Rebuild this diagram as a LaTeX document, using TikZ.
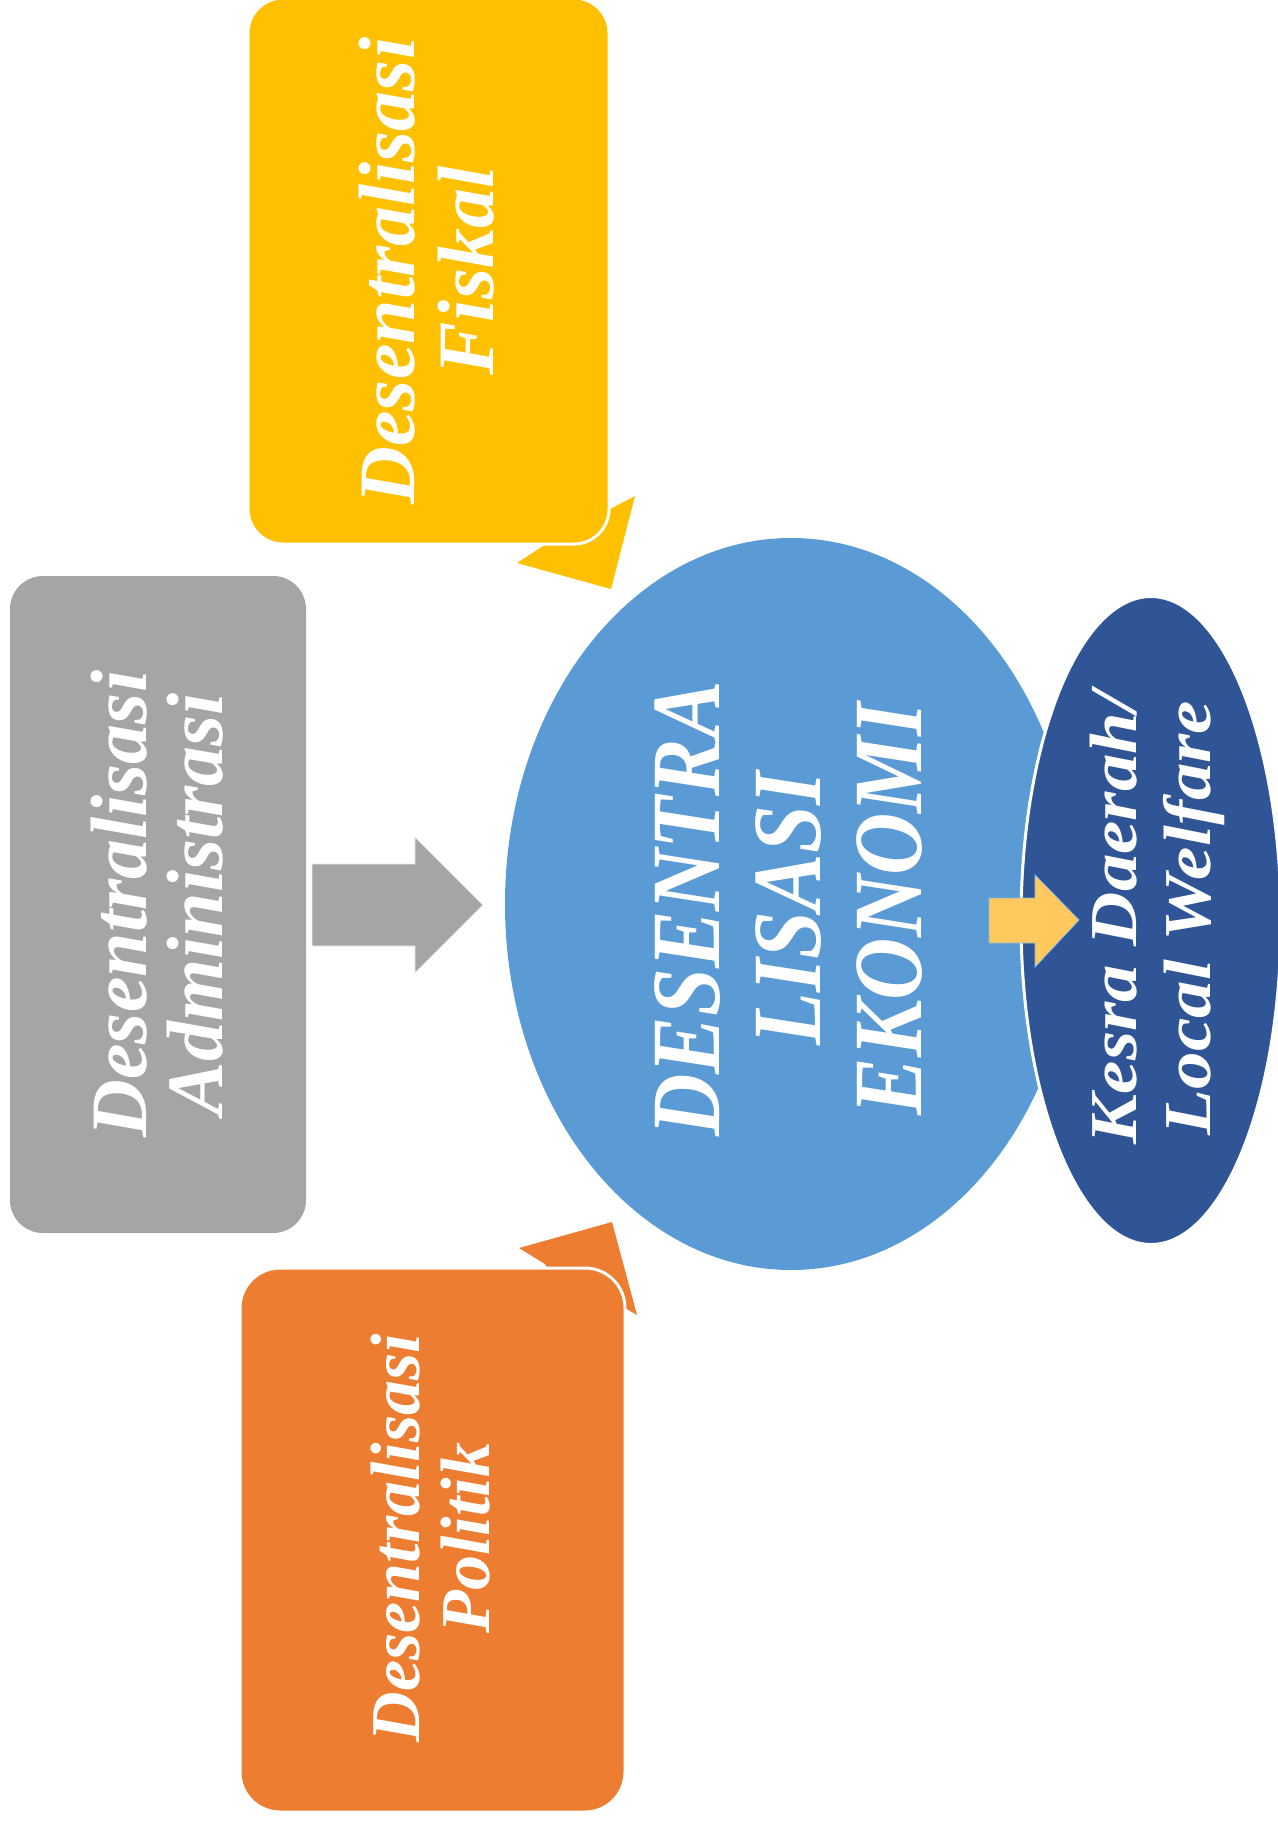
\documentclass[tikz,border=0pt]{standalone}
\usepackage{fontspec}
\setmainfont{Liberation Serif}
\newfontfamily\capsfont[FakeStretch=0.88]{Liberation Serif}
\newfontfamily\widefont[FakeStretch=1.12]{Liberation Serif}
\usetikzlibrary{shapes.geometric}
\definecolor{cyellow}{HTML}{FFC000}
\definecolor{cgray}{HTML}{A5A5A5}
\definecolor{corange}{HTML}{ED7D31}
\definecolor{cblue}{HTML}{5B9BD5}
\definecolor{cdark}{HTML}{2F5597}
\definecolor{carrow}{HTML}{FFC95E}
\begin{document}
\begin{tikzpicture}[x=1pt,y=-1pt,
  rbox/.style={rectangle, rounded corners=#1, inner sep=0pt},
  oval/.style={ellipse, inner sep=0pt},
  lbl/.style={text=white, align=center, rotate=90, inner sep=0pt}]
\useasboundingbox (0,0) rectangle (1277,1827);
% callout tails
\fill[cyellow] (517,563) -- (611,589) -- (635,496) -- (595,517) -- (560,535) -- cycle;
\fill[corange] (519,1248) -- (612,1222) -- (637,1315) -- (620,1305) -- (560,1290) -- (545,1264) -- cycle;
% boxes
\node[rbox=35pt, fill=cyellow, draw=white, line width=3pt, minimum width=361pt, minimum height=546pt] (fiskal) at (428.5,271) {};
\node[rbox=33pt, fill=cgray, minimum width=296pt, minimum height=657pt] (admin) at (158,904.5) {};
\node[rbox=40pt, fill=corange, draw=white, line width=3pt, minimum width=385pt, minimum height=544pt] (politik) at (432.5,1540) {};
% gray arrow
\fill[cgray, draw=white!85!gray, line width=0.8pt] (312,864) -- (415,864) -- (415,837) -- (483,905) -- (415,973) -- (415,946) -- (312,946) -- cycle;
% ellipses
\node[oval, fill=cblue, minimum width=572pt, minimum height=732pt] (ekonomi) at (791,904) {};
\node[oval, fill=cdark, draw=white, line width=3pt, minimum width=260pt, minimum height=648pt] (kesra) at (1151,920.5) {};
% small arrow
\fill[carrow, draw=cblue!70!white, line width=0.8pt] (989,898) -- (1035,898) -- (1035,875) -- (1079,920) -- (1035,967) -- (1035,943) -- (989,943) -- cycle;
% texts
\node[lbl, font=\fontsize{80}{79}\selectfont\bfseries\itshape] (tfiskal) at (427,271) {Desentralisasi\\Fiskal};
\node[lbl, font=\fontsize{80}{76}\selectfont\bfseries\itshape] (tadmin) at (157,904) {Desentralisasi\\Administrasi};
\node[lbl, font=\fontsize{70}{70}\selectfont\bfseries\itshape] (tpolitik) at (431,1538) {Desentralisasi\\Politik};
\node[lbl, font=\fontsize{98}{101}\capsfont\bfseries\itshape] (tekonomi) at (789,909) {DESENTRA\\LISASI\\EKONOMI};
\node[lbl, font=\fontsize{67}{74}\widefont\bfseries\itshape] (tkesra) at (1157,918) {Kesra Daerah/\\Local Welfare};
\end{tikzpicture}
\end{document}
